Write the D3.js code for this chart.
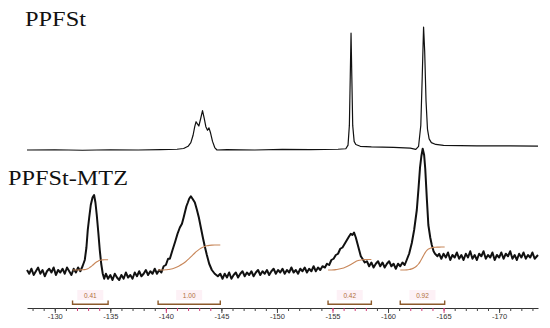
<!DOCTYPE html>
<html>
<head>
<meta charset="utf-8">
<script src="https://cdn.jsdelivr.net/npm/d3@7"></script>
<style>
  body { margin: 0; background: #fff; }
  svg { display: block; }
  .title { font-family: "Liberation Serif", serif; font-size: 22px; fill: #111; }
  .tick text { font-family: "Liberation Sans", Arial, sans-serif; font-size: 7.5px; fill: #333; }
  .int-label { font-family: "Liberation Sans", Arial, sans-serif; font-size: 6.5px; fill: #b0703a; }
</style>
</head>
<body>
<div id="chart"></div>
<script>
const WIDTH = 550;
const HEIGHT = 328;

// ppm range of the axis (decreasing to the right)
const ppmRange = [-127.5, -173.5];
const majorTicks = [-130, -135, -140, -145, -150, -155, -160, -165, -170];
const minorTicks = d3.range(-128, -174, -1);

const titles = ["PPFSt", "PPFSt-MTZ"];

// PPFSt spectrum, [ppm, relative intensity]
const topSpectrum = [
  [-127.5, 0], [-130, 0.2], [-132.5, -0.2], [-135, 0.2], [-137.5, 0], [-139.5, 0.3],
  [-141.0, 0.6], [-141.6, 1.2], [-142.0, 3], [-142.25, 6], [-142.45, 12], [-142.6, 19],
  [-142.72, 23], [-142.85, 21], [-142.97, 19.5], [-143.12, 25], [-143.3, 32], [-143.45, 26],
  [-143.6, 19], [-143.75, 16], [-143.88, 18], [-144.02, 14], [-144.2, 7], [-144.4, 2],
  [-144.6, 0], [-145.5, 0.3], [-148, 0], [-150.5, 0.5], [-153, 0.3], [-155.5, 0.6],
  [-156.2, 1], [-156.4, 4], [-156.52, 20], [-156.6, 60], [-156.67, 95], [-156.74, 60],
  [-156.82, 20], [-156.95, 7], [-157.1, 4.5], [-157.5, 3], [-158.5, 2.5], [-160.5, 2.2],
  [-162.0, 1.5], [-162.5, 0.5], [-162.75, 3], [-162.95, 20], [-163.08, 60], [-163.2, 100],
  [-163.3, 80], [-163.42, 40], [-163.55, 17], [-163.7, 9], [-163.9, 6], [-164.3, 4.5],
  [-165, 3.8], [-168, 3.4], [-171, 3.3], [-173.5, 3.2]
];

// PPFSt-MTZ spectrum (noisy), [ppm, relative intensity]
const bottomSpectrum = [
  [-127.5, 4], [-127.7, 1], [-127.9, 5], [-128.1, 0], [-128.3, 3], [-128.5, 6], [-128.7, 1],
  [-128.9, 4], [-129.1, -1], [-129.3, 3], [-129.5, 5], [-129.7, 2], [-129.9, 6], [-130.1, 0],
  [-130.3, 4], [-130.5, 2], [-130.7, 5], [-130.9, 1], [-131.1, 6], [-131.3, 3], [-131.5, 0],
  [-131.7, 5], [-131.9, 2], [-132.1, 6], [-132.3, 3], [-132.5, 7],
  [-132.7, 12], [-132.85, 22], [-132.97, 36], [-133.1, 46], [-133.24, 56], [-133.4, 62],
  [-133.54, 64], [-133.66, 58], [-133.78, 48], [-133.92, 34], [-134.05, 20], [-134.18, 9],
  [-134.32, 1], [-134.45, -3],
  [-134.6, 1], [-134.8, -3], [-135.0, 0], [-135.2, -4], [-135.4, 1], [-135.6, -2], [-135.8, -4],
  [-136.0, 0], [-136.2, -3], [-136.4, 2], [-136.6, -2], [-136.8, 0], [-137.0, -3], [-137.2, 2],
  [-137.4, -1], [-137.6, 3], [-137.8, -1], [-138.0, 1], [-138.2, 4], [-138.4, 0], [-138.6, 3],
  [-138.8, 1], [-139.0, 5], [-139.2, 1], [-139.4, 4],
  [-139.6, 2], [-139.8, 7], [-140.0, 8], [-140.2, 13], [-140.36, 13], [-140.6, 20],
  [-140.85, 27], [-141.05, 33], [-141.26, 38], [-141.45, 41], [-141.6, 46], [-141.71, 50],
  [-141.85, 55], [-141.98, 58], [-142.1, 61], [-142.25, 63], [-142.4, 61], [-142.61, 58],
  [-142.8, 52], [-142.97, 46], [-143.15, 38], [-143.33, 30], [-143.5, 23], [-143.69, 16],
  [-143.9, 9], [-144.14, 4], [-144.4, 1], [-144.68, -1],
  [-144.9, 1], [-145.1, -3], [-145.3, 1], [-145.5, -2], [-145.7, 2], [-145.9, -3], [-146.1, 0],
  [-146.3, 2], [-146.5, -2], [-146.7, 1], [-146.9, 3], [-147.1, -1], [-147.3, 2], [-147.5, 0],
  [-147.7, 3], [-147.9, -1], [-148.1, 2], [-148.3, 4], [-148.5, 0], [-148.7, 3], [-148.9, 1],
  [-149.1, 4], [-149.3, 0], [-149.5, 3], [-149.7, 5], [-149.9, 1], [-150.1, 4], [-150.3, 2],
  [-150.5, 5], [-150.7, 1], [-150.9, 4], [-151.1, 2], [-151.3, 6], [-151.5, 2], [-151.7, 4],
  [-151.9, 1], [-152.1, 5], [-152.3, 3], [-152.5, 6], [-152.7, 2], [-152.9, 5], [-153.1, 3],
  [-153.3, 7], [-153.5, 3], [-153.7, 6], [-153.9, 4], [-154.1, 7],
  [-154.32, 6], [-154.5, 9], [-154.7, 8], [-154.9, 12], [-155.1, 13], [-155.3, 16], [-155.5, 17],
  [-155.7, 21], [-155.9, 22], [-156.1, 25], [-156.3, 28], [-156.5, 31], [-156.65, 33],
  [-156.8, 32], [-156.94, 34], [-157.1, 30], [-157.25, 25], [-157.4, 20], [-157.55, 15],
  [-157.7, 13], [-157.9, 10],
  [-158.1, 11], [-158.3, 7], [-158.5, 10], [-158.7, 6], [-158.9, 9], [-159.1, 11], [-159.3, 7],
  [-159.5, 10], [-159.7, 6], [-159.9, 9], [-160.1, 11], [-160.3, 7], [-160.5, 9], [-160.7, 5],
  [-160.9, 9], [-161.1, 7], [-161.3, 10], [-161.5, 8],
  [-161.68, 12], [-161.9, 17], [-162.14, 25.6], [-162.35, 36], [-162.59, 52], [-162.75, 70],
  [-162.88, 86], [-163.0, 95], [-163.12, 101], [-163.25, 96], [-163.35, 85], [-163.5, 60],
  [-163.63, 40], [-163.8, 30], [-163.94, 24], [-164.1, 19], [-164.23, 17], [-164.45, 15],
  [-164.6, 17], [-164.8, 13], [-165.0, 17], [-165.2, 14], [-165.4, 18], [-165.6, 12],
  [-165.8, 16], [-166.0, 14], [-166.2, 18], [-166.4, 13], [-166.6, 16], [-166.8, 12],
  [-167.0, 17], [-167.2, 14], [-167.4, 19], [-167.6, 13], [-167.8, 16], [-168.0, 12],
  [-168.2, 17], [-168.4, 15], [-168.6, 19], [-168.8, 13], [-169.0, 16], [-169.2, 14],
  [-169.4, 18], [-169.6, 12], [-169.8, 16], [-170.0, 14], [-170.2, 18], [-170.4, 13],
  [-170.6, 17], [-170.8, 15], [-171.0, 19], [-171.2, 13], [-171.4, 16], [-171.6, 12],
  [-171.8, 17], [-172.0, 14], [-172.2, 18], [-172.4, 13], [-172.6, 16], [-172.8, 14],
  [-173.0, 18], [-173.2, 13], [-173.5, 16]
];

// integration regions: start ppm, end ppm, integral value
const integralStart = [-131.6, -139.3, -154.6, -161.1];
const integralEnd = [-134.8, -144.9, -158.5, -165.1];
const integralValue = [0.41, 1.00, 0.42, 0.92];

const svg = d3.select("#chart").append("svg").attr("width", WIDTH).attr("height", HEIGHT);

const x = d3.scaleLinear().domain(ppmRange).range([27, 538]);
const yTop = d3.scaleLinear().domain([0, 100]).range([150, 27]);
const yBottom = d3.scaleLinear().domain([0, 100]).range([275, 150]);

const axisY = 308;

// titles
svg.append("text").attr("class", "title").attr("x", 25).attr("y", 26)
  .attr("textLength", 61).attr("lengthAdjust", "spacingAndGlyphs").text(titles[0]);
svg.append("text").attr("class", "title").attr("x", 8).attr("y", 185)
  .attr("textLength", 120).attr("lengthAdjust", "spacingAndGlyphs").text(titles[1]);

// spectra
svg.append("path")
  .datum(topSpectrum)
  .attr("fill", "none")
  .attr("stroke", "#111")
  .attr("stroke-width", 1.2)
  .attr("stroke-linejoin", "round")
  .attr("d", d3.line().x((d) => x(d[0])).y((d) => yTop(d[1])));

svg.append("path")
  .datum(bottomSpectrum)
  .attr("fill", "none")
  .attr("stroke", "#111")
  .attr("stroke-width", 2)
  .attr("stroke-linejoin", "round")
  .attr("d", d3.line().x((d) => x(d[0])).y((d) => yBottom(d[1])));

// integral curves, built from the running sum of the bottom spectrum
const integralBase = 4;
const unitRise = 20;
integralStart.forEach((start, i) => {
  const end = integralEnd[i];
  const pts = bottomSpectrum.filter((d) => d[0] <= start && d[0] >= end);
  const n = pts.length;
  const b0 = d3.mean(pts.slice(0, 3), (d) => d[1]);
  const b1 = d3.mean(pts.slice(n - 3), (d) => d[1]);
  const p0 = pts[0][0];
  const p1 = pts[n - 1][0];
  const corr = pts.map((d) => Math.max(0, d[1] - (b0 + ((d[0] - p0) / (p1 - p0)) * (b1 - b0))));
  const cum = [0];
  for (let k = 1; k < n; k++) {
    cum.push(cum[k - 1] + ((corr[k] + corr[k - 1]) / 2) * Math.abs(pts[k][0] - pts[k - 1][0]));
  }
  const total = cum[n - 1];
  const curve = pts.map((d, k) => [d[0], integralBase + (cum[k] / total) * integralValue[i] * unitRise]);
  curve.unshift([start, integralBase]);
  curve.push([end, integralBase + integralValue[i] * unitRise]);

  svg.append("path")
    .datum(curve)
    .attr("fill", "none")
    .attr("stroke", "#c8875a")
    .attr("stroke-width", 1.1)
    .attr("d", d3.line().curve(d3.curveBasis).x((d) => x(d[0])).y((d) => yBottom(d[1])));
});

// integral brackets and labels
const brackets = svg.append("g");
integralStart.forEach((start, i) => {
  const x0 = x(start);
  const x1 = x(integralEnd[i]);
  const cx = (x0 + x1) / 2;
  brackets.append("rect")
    .attr("x", cx - 13).attr("y", 290).attr("width", 26).attr("height", 10)
    .attr("fill", "#fdf1f6");
  brackets.append("path")
    .attr("d", `M${x0},300.5V304.3H${x1}V300.5`)
    .attr("fill", "none")
    .attr("stroke", "#8b5a2b")
    .attr("stroke-width", 1.4);
  brackets.append("text")
    .attr("class", "int-label")
    .attr("x", cx).attr("y", 297.5)
    .attr("text-anchor", "middle")
    .text(integralValue[i].toFixed(2));
});

// axis
const inIntegral = (v) => integralStart.some((s, i) => v <= s && v >= integralEnd[i]);

const minorAxis = svg.append("g")
  .attr("transform", `translate(0,${axisY})`)
  .call(d3.axisBottom(x).tickValues(minorTicks).tickSize(3).tickSizeOuter(0).tickFormat(""));
minorAxis.select(".domain").attr("stroke", "#333");
minorAxis.selectAll(".tick line").attr("stroke", (d) => (inIntegral(d) ? "#d0407a" : "#444"));

const majorAxis = svg.append("g")
  .attr("transform", `translate(0,${axisY})`)
  .call(d3.axisBottom(x).tickValues(majorTicks).tickSize(5).tickSizeOuter(0).tickPadding(1).tickFormat((d) => String(d)));
majorAxis.select(".domain").remove();
majorAxis.selectAll(".tick line").attr("stroke", (d) => (inIntegral(d) ? "#d0407a" : "#444"));
</script>
</body>
</html>
